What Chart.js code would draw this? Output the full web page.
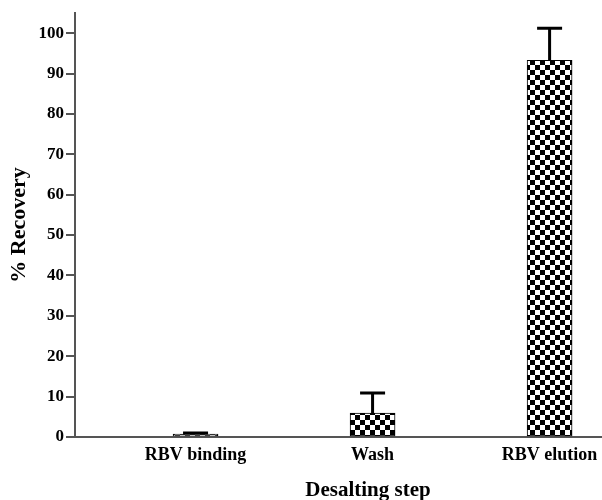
<!DOCTYPE html>
<html>
<head>
<meta charset="utf-8">
<script src="https://cdn.jsdelivr.net/npm/chart.js@4"></script>
<style>
html,body{margin:0;padding:0;background:#fff;}
#c{display:block;}
</style>
</head>
<body>
<canvas id="c" width="602" height="500" style="width:602px;height:500px"></canvas>
<script>
// ---- data ----
const categories = ['RBV binding', 'Wash', 'RBV elution'];
const positions = [1, 2, 3];
const recovery = [0.7, 5.9, 93.3];
const errorUp = [0.3, 5.0, 7.9];
const yTicks = [0, 10, 20, 30, 40, 50, 60, 70, 80, 90, 100];
const yTitle = '% Recovery';
const xTitle = 'Desalting step';

// ---- checkerboard pattern ----
function checker() {
  const p = document.createElement('canvas');
  p.width = 10; p.height = 10;
  const g = p.getContext('2d');
  g.fillStyle = '#fff'; g.fillRect(0, 0, 10, 10);
  g.fillStyle = '#000'; g.fillRect(0, 0, 5, 5); g.fillRect(5, 5, 5, 5);
  return document.getElementById('c').getContext('2d').createPattern(p, 'repeat');
}

const FONT = "'Liberation Serif', 'Times New Roman', serif";

const errorBars = {
  id: 'errorBars',
  afterDatasetsDraw(chart) {
    const ctx = chart.ctx;
    const meta = chart.getDatasetMeta(0);
    const ys = chart.scales.y;
    ctx.save();
    ctx.strokeStyle = '#000';
    ctx.lineWidth = 3;
    meta.data.forEach((bar, i) => {
      const top = ys.getPixelForValue(recovery[i] + errorUp[i]);
      const base = ys.getPixelForValue(recovery[i]);
      ctx.beginPath();
      ctx.moveTo(bar.x, base);
      ctx.lineTo(bar.x, top);
      ctx.moveTo(bar.x - 12.5, top);
      ctx.lineTo(bar.x + 12.5, top);
      ctx.stroke();
    });
    ctx.restore();
  }
};

const xTitlePlugin = {
  id: 'xTitlePlugin',
  afterDraw(chart) {
    const ctx = chart.ctx;
    ctx.save();
    ctx.fillStyle = '#000';
    ctx.font = "bold 21px " + FONT;
    ctx.textAlign = 'center';
    ctx.textBaseline = 'middle';
    ctx.fillText(xTitle, chart.chartArea.left + 293, 491);
    ctx.restore();
  }
};

new Chart(document.getElementById('c'), {
  type: 'bar',
  data: {
    datasets: [{
      data: positions.map((p, i) => ({x: p, y: recovery[i]})),
      backgroundColor: checker(),
      borderColor: '#000',
      borderWidth: 1,
      borderSkipped: false,
      barThickness: 45
    }]
  },
  options: {
    responsive: false,
    animation: false,
    devicePixelRatio: 1,
    layout: {padding: {top: 13, right: 0, left: 0, bottom: 0}},
    plugins: {legend: {display: false}, tooltip: {enabled: false}},
    scales: {
      x: {
        type: 'linear',
        offset: false,
        bounds: 'ticks',
        min: 0.319,
        max: 3.296,
        afterBuildTicks(scale) { scale.ticks = positions.map(v => ({value: v})); },
        afterFit(scale) { scale.height = 63; scale.paddingLeft = 0; scale.paddingRight = 0; },
        grid: {display: false, drawTicks: false, offset: false},
        border: {display: true, color: '#555', width: 2},
        ticks: {
          autoSkip: false,
          maxRotation: 0,
          padding: 8,
          color: '#000',
          font: {family: FONT, size: 18, weight: 'bold'},
          callback: (v) => categories[positions.indexOf(v)]
        }
      },
      y: {
        min: 0,
        max: 105,
        afterBuildTicks(scale) { scale.ticks = yTicks.map(v => ({value: v})); },
        afterFit(scale) { scale.width = 75; },
        grid: {display: true, drawOnChartArea: false, drawTicks: true, tickLength: 9, color: '#555', lineWidth: 2},
        border: {display: true, color: '#555', width: 2},
        ticks: {
          padding: 2,
          color: '#000',
          font: {family: FONT, size: 17, weight: 'bold'}
        },
        title: {
          display: true,
          text: yTitle,
          color: '#000',
          font: {family: FONT, size: 22, weight: 'bold'},
          padding: {top: 6, bottom: 0}
        }
      }
    }
  },
  plugins: [errorBars, xTitlePlugin]
});
</script>
</body>
</html>
